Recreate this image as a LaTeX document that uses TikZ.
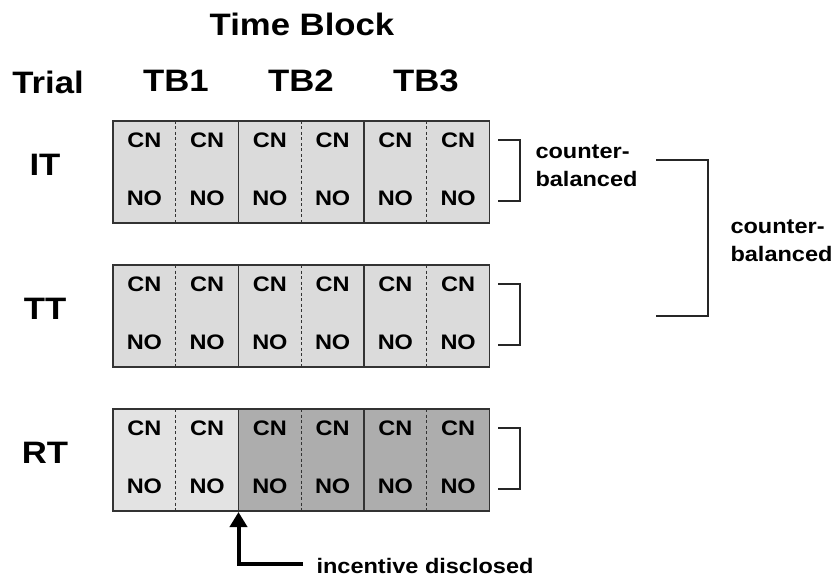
\documentclass[tikz,border=0pt]{standalone}
\usepackage{fontspec}
\setmainfont{Liberation Sans}[FakeStretch=1.12]
\usetikzlibrary{arrows.meta}
\definecolor{cellgray}{gray}{0.86}
\definecolor{lightcell}{gray}{0.89}
\definecolor{darkcell}{gray}{0.68}
\begin{document}
\begin{tikzpicture}[x=1pt,y=-1pt,
		head/.style={font=\fontsize{31}{31}\selectfont\bfseries},
		cell/.style={font=\fontsize{21}{21}\selectfont\bfseries},
		note/.style={font=\fontsize{21}{28}\selectfont\bfseries,align=left,anchor=west},
		frame/.style={draw=black!80,line width=1.3pt},
		brace/.style={draw=black!85,line width=1.2pt}]
		\useasboundingbox (0,0) rectangle (837,577);
		% headings
		\node[head] (timeblock) at (302,24) {Time Block};
		\node[head] (trial) at (48,82) {Trial};
		\foreach \t/\x in {1/176,2/301,3/426}
			\node[head] (tb\t) at (\x,81) {TB\t};
		% one row of cells per trial
		\foreach \r/\y/\ca/\cb in {IT/121/cellgray/cellgray,TT/265/cellgray/cellgray,RT/409/lightcell/darkcell} {
			\node[head] (\r) at (45,\y+44) {\r};
			\fill[\ca] (113,\y) rectangle (238.5,\y+102);
			\fill[\cb] (238.5,\y) rectangle (489.5,\y+102);
			\foreach \k in {0,...,5} {
				\node[cell] (\r-cn\k) at (144.4+62.75*\k,\y+19) {CN};
				\node[cell] (\r-no\k) at (144.4+62.75*\k,\y+77) {NO};
			}
			\foreach \k in {1,3,5}
				\draw[black!80,line width=1pt,dash pattern=on 3pt off 2.5pt] (113+62.75*\k,\y) -- (113+62.75*\k,\y+102);
			\foreach \k in {2,4}
				\draw[frame] (113+62.75*\k,\y) -- (113+62.75*\k,\y+102);
			\draw[frame] (113,\y) rectangle (489.5,\y+102);
			\coordinate (\r-foot) at (238.5,\y+103);
			\draw[brace] (498,\y+19) -| (520,\y+80) -- (498,\y+80);
		}
		% counterbalancing
		\node[note] (cb1) at (532,166) {counter-\\balanced};
		\draw[brace] (656,160) -| (708,316) -- (656,316);
		\node[note] (cb2) at (727,241) {counter-\\balanced};
		% disclosure point
		\node[note] (disclosed) at (313,566) {incentive disclosed};
		\coordinate (hook) at (303,564);
		\draw[line width=4pt,-{Triangle[length=15pt,width=17pt]}] (hook) -| (RT-foot);
	\end{tikzpicture}
\end{document}
